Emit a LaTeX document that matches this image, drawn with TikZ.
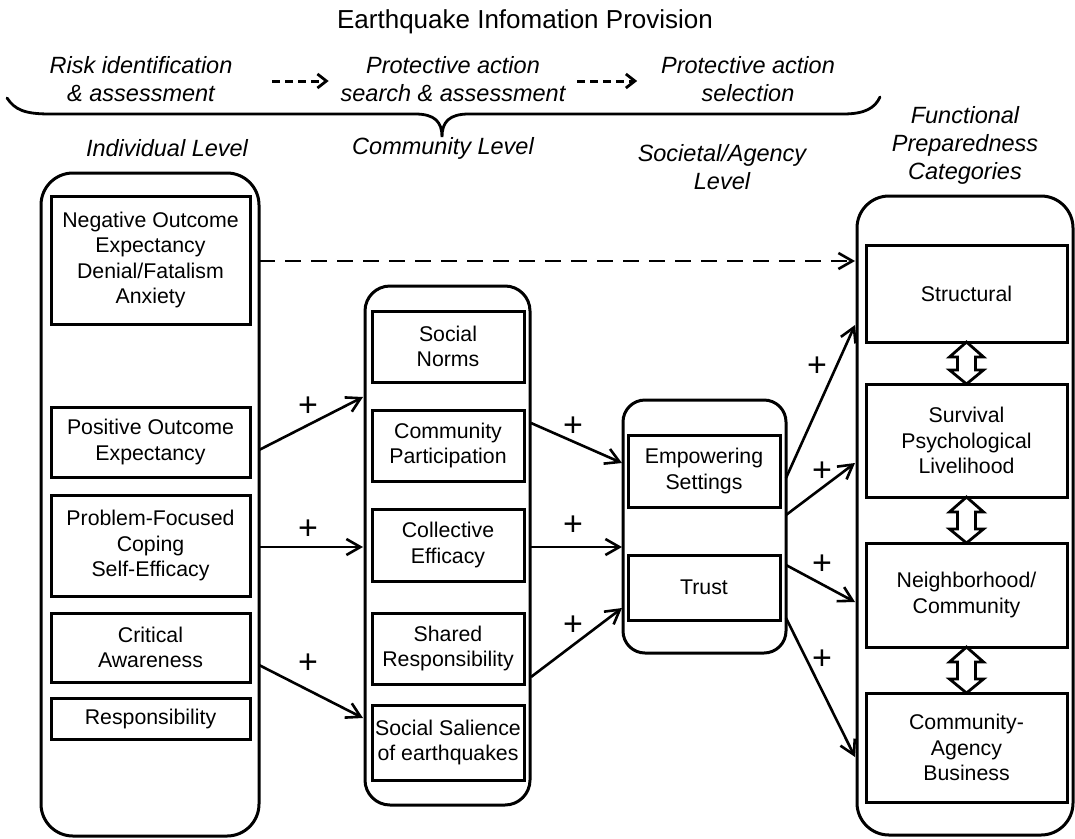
\documentclass[tikz,border=0pt]{standalone}
\usepackage{fontspec}
\setmainfont{Liberation Sans}
\usetikzlibrary{arrows.meta,calc}
\begin{document}
\begin{tikzpicture}[x=1pt,y=-1pt,
  every node/.style={inner sep=0pt, outer sep=0pt},
  txt/.style={font=\fontsize{21.3}{25.5}\selectfont, align=center},
  lbl/.style={font=\fontsize{23.5}{28}\selectfont\itshape, align=center},
  plus/.style={font=\fontsize{34}{34}\selectfont},
  group/.style={draw, line width=3pt, rounded corners=#1},
  item/.style={draw, line width=3pt, txt},
  arr/.style={line width=2.6pt, -{Straight Barb[length=14pt,width=16pt,line width=2.6pt]}},
  dasharr/.style={line width=2.8pt, dash pattern=on 16pt off 10pt, -{Straight Barb[length=14pt,width=16pt,line width=2.6pt]}},
  steparr/.style={line width=3pt, dash pattern=on 8pt off 5pt, -{Straight Barb[length=9pt,width=14pt,line width=2.8pt]}},
  dbl/.style={draw, line width=2.8pt, fill=white, line join=miter}
]
\useasboundingbox (0,0) rectangle (1075,838);

% headings
\node[font=\fontsize{26}{30}\selectfont] (title) at (525,22) {Earthquake Infomation Provision};
\node[lbl] (risk) at (141,79) {Risk identification\\\& assessment};
\node[lbl] (search) at (453,79) {Protective action\\search \& assessment};
\node[lbl] (select) at (748,79) {Protective action\\selection};
\draw[steparr] ([xshift=40pt,yshift=-2pt]risk.east) -- ([xshift=-12pt,yshift=-2pt]search.west);
\draw[steparr] ([xshift=12pt,yshift=-2pt]search.east) -- ([xshift=-24pt,yshift=-2pt]select.west);

% brace under the three stages
\draw[line width=2.8pt, line cap=round]
  (7,98) .. controls (15,110) and (25,114) .. (50,114) -- (415,114)
  .. controls (435,114) and (442,122) .. (442,137)
  .. controls (442,122) and (449,114) .. (469,114) -- (843,114)
  .. controls (865,114) and (875,108) .. (880,97);

\node[lbl] (lvind) at (167,148) {Individual Level};
\node[lbl] (lvcom) at (443,148) {Community Level};
\node[lbl] (lvsoc) at (722,167) {Societal/Agency\\Level};
\node[lbl] (lvfun) at (965,145) {Functional\\Preparedness\\Categories};

% individual level
\node[group=32pt, minimum width=218pt, minimum height=663pt] (L) at (150,504.5) {};
\node[item, minimum width=199pt, minimum height=128pt] (neg) at (150.5,260) {Negative Outcome\\Expectancy\\Denial/Fatalism\\Anxiety};
\node[item, minimum width=199pt, minimum height=70pt] (pos) at (150.5,442) {Positive Outcome\\Expectancy};
\node[item, minimum width=199pt, minimum height=101pt] (prob) at (150.5,545.5) {Problem-Focused\\Coping\\Self-Efficacy};
\node[item, minimum width=199pt, minimum height=69pt] (crit) at (150.5,647.5) {Critical\\Awareness};
\node[item, minimum width=199pt, minimum height=41pt] (resp) at (150.5,718.5) {Responsibility};

% community level
\node[group=25pt, minimum width=165pt, minimum height=519pt] (M) at (447.5,545.5) {};
\node[item, minimum width=152pt, minimum height=71pt] (norms) at (448,346.5) {Social\\Norms};
\node[item, minimum width=152pt, minimum height=71pt] (part) at (448,445.5) {Community\\Participation};
\node[item, minimum width=152pt, minimum height=72pt] (coll) at (448,545) {Collective\\Efficacy};
\node[item, minimum width=152pt, minimum height=71pt] (shared) at (448,648.5) {Shared\\Responsibility};
\node[item, minimum width=152pt, minimum height=75pt] (sal) at (448,742.5) {Social Salience\\of earthquakes};

% societal / agency level
\node[group=22pt, minimum width=163pt, minimum height=253pt] (T) at (704.5,526.5) {};
\node[item, minimum width=152pt, minimum height=72pt] (emp) at (704,471) {Empowering\\Settings};
\node[item, minimum width=152pt, minimum height=65pt] (trust) at (704,587.5) {Trust};

% functional preparedness categories
\node[group=32pt, minimum width=216pt, minimum height=639pt] (R) at (965,515.5) {};
\node[item, minimum width=201pt, minimum height=97pt] (s1) at (966.5,293.5) {Structural};
\node[item, minimum width=201pt, minimum height=113pt] (s2) at (966.5,440.5) {Survival\\Psychological\\Livelihood};
\node[item, minimum width=201pt, minimum height=104pt] (s3) at (966.5,595) {Neighborhood/\\Community};
\node[item, minimum width=201pt, minimum height=109pt] (s4) at (966.5,747.5) {Community-\\Agency\\Business};

% two-way links between categories
\foreach \a/\b in {s1/s2, s2/s3, s3/s4}
  \draw[dbl] (\a.south) -- ++(17,15) -- ++(-8,0) -- ($(\b.north)+(9,-14)$) -- ++(8,0)
    -- (\b.north) -- ++(-17,-14) -- ++(8,0) -- ($(\a.south)+(-9,15)$) -- ++(-8,0) -- cycle;

% influence paths
\draw[dasharr] ([yshift=243.5pt]L.east) -- ([xshift=-2pt,yshift=254.5pt]R.west);

\draw[arr] ([yshift=54.5pt]L.east) -- ([xshift=-2pt,yshift=148.5pt]M.west);
\draw[arr] ([yshift=-42.5pt]L.east) -- ([xshift=-2pt,yshift=-1.5pt]M.west);
\draw[arr] ([yshift=-160.5pt]L.east) -- ([xshift=-2pt,yshift=-172.5pt]M.west);

\draw[arr] ([xshift=1pt,yshift=122.5pt]M.east) -- ([xshift=-1pt,yshift=63.5pt]T.west);
\draw[arr] ([xshift=1pt,yshift=-1.5pt]M.east) -- ([xshift=-1pt,yshift=-20.5pt]T.west);
\draw[arr] ([xshift=1pt,yshift=-131.5pt]M.east) -- ([xshift=-1pt,yshift=-81.5pt]T.west);

\draw[arr] ([yshift=48.5pt]T.east) -- ([xshift=-2pt,yshift=190.5pt]R.west);
\draw[arr] ([yshift=11.5pt]T.east) -- ([xshift=-2pt,yshift=52.5pt]R.west);
\draw[arr] ([yshift=-38.5pt]T.east) -- ([xshift=-2pt,yshift=-86.5pt]R.west);
\draw[arr] ([yshift=-91.5pt]T.east) -- ([xshift=-2pt,yshift=-241.5pt]R.west);

% signs of the paths
\node[plus] (p1) at (308,407) {+};
\node[plus] (p2) at (308,530) {+};
\node[plus] (p3) at (308,664) {+};
\node[plus] (p4) at (573,427) {+};
\node[plus] (p5) at (573,526) {+};
\node[plus] (p6) at (573,626) {+};
\node[plus] (p7) at (817,367) {+};
\node[plus] (p8) at (822,472) {+};
\node[plus] (p9) at (822,565) {+};
\node[plus] (p10) at (822,660) {+};
\end{tikzpicture}
\end{document}
